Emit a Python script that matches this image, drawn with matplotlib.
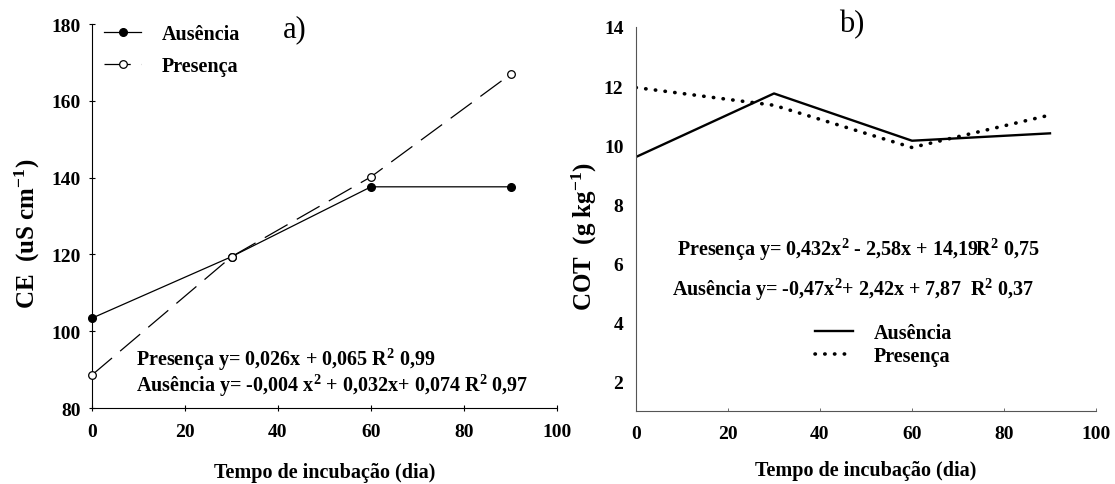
import matplotlib
matplotlib.use('Agg')
import matplotlib.pyplot as plt

plt.rcParams['font.family'] = ['Liberation Serif', 'DejaVu Serif']
plt.rcParams['font.weight'] = 'bold'
plt.rcParams['mathtext.fontset'] = 'custom'
plt.rcParams['mathtext.rm'] = 'Liberation Serif:bold'
plt.rcParams['mathtext.bf'] = 'Liberation Serif:bold'
plt.rcParams['mathtext.it'] = 'Liberation Serif:bold'

# data
dias = [0, 30, 60, 90]
ce_ausencia = [103.4, 119.4, 137.6, 137.6]
ce_presenca = [88.6, 119.4, 140.2, 166.9]
cot_ausencia = [9.6, 11.75, 10.15, 10.4]
cot_presenca = [11.95, 11.35, 9.92, 11.02]
xticks = [0, 20, 40, 60, 80, 100]
ce_yticks = [80, 100, 120, 140, 160, 180]
cot_yticks = [2, 4, 6, 8, 10, 12, 14]

fig = plt.figure(figsize=(11.15, 4.85), dpi=100)
ax1 = fig.add_axes([92 / 1115, 76 / 485, 465 / 1115, 384 / 485])
ax2 = fig.add_axes([636 / 1115, 73 / 485, 460 / 1115, 384 / 485])

fs_tick = 14
fs_lab = 14.5
fs_ylab = 18
fs_txt = 14.5

# ---- a) CE
ax1.plot(dias, ce_ausencia, color='black', lw=0.9, marker='o', ms=5.5,
         mfc='black', mec='black', label='Ausência', clip_on=False, zorder=3)
ax1.plot(dias, ce_presenca, color='black', lw=0.9, dashes=(21, 8.5), marker='o', ms=5.5,
         mfc='white', mec='black', mew=0.9, label='Presença', clip_on=False, zorder=4)
ax1.set_xlim(0, 100)
ax1.set_ylim(80, 180)
ax1.set_xticks(xticks)
ax1.set_yticks(ce_yticks)
for s in ['top', 'right']:
    ax1.spines[s].set_visible(False)
ax1.tick_params(direction='inout', length=4, width=0.8, labelsize=fs_tick)
ax1.tick_params(axis='x', pad=9)
ax1.tick_params(axis='y', pad=6)
ax1.set_xlabel('Tempo de incubação (dia)', fontsize=fs_lab, fontweight='bold', labelpad=16)
ax1.set_ylabel('CE  (uS cm$^{-1}$)', fontsize=fs_ylab, fontweight='bold')
ax1.yaxis.set_label_coords(-0.108, 0.455)
ax1.text(43.7, 178.7, 'a)', fontsize=22, fontweight='normal', ha='center', va='center')
ax1.text(9.4, 92.75, 'Presença y= 0,026x + 0,065 R$^{2}$ 0,99', fontsize=fs_txt,
         fontweight='bold', va='center')
ax1.text(9.4, 86.0, 'Ausência y= -0,004 x$^{2}$ + 0,032x+ 0,074 R$^{2}$ 0,97', fontsize=fs_txt,
         fontweight='bold', va='center')
ax1.legend(loc='upper left', bbox_to_anchor=(0.026, 1.001), frameon=False, numpoints=1,
           handlelength=1.85, handletextpad=1.0, labelspacing=0.62, borderpad=0,
           borderaxespad=0, prop={'size': fs_txt, 'weight': 'bold'})

# ---- b) COT
ax2.plot(dias, cot_ausencia, color='black', lw=1.7, label='Ausência')
ax2.plot(dias, cot_presenca, color='black', lw=2.6, linestyle=(0, (0.1, 2.6)),
         dash_capstyle='round', label='Presença')
ax2.set_xlim(0, 100)
ax2.set_ylim(1, 14)
ax2.set_xticks(xticks)
ax2.set_yticks(cot_yticks)
for s in ['top', 'right']:
    ax2.spines[s].set_visible(False)
for s in ['left', 'bottom']:
    ax2.spines[s].set_color('#555555')
ax2.tick_params(axis='x', direction='in', length=2, width=0.6, color='#555555',
                labelsize=fs_tick, pad=10)
ax2.tick_params(axis='y', length=0, labelsize=fs_tick, pad=9)
ax2.set_xlabel('Tempo de incubação (dia)', fontsize=fs_lab, fontweight='bold', labelpad=13)
ax2.set_ylabel('COT  (g kg$^{-1}$)', fontsize=fs_ylab, fontweight='bold')
ax2.yaxis.set_label_coords(-0.080, 0.456)
ax2.text(46.8, 14.1, 'b)', fontsize=22, fontweight='normal', ha='center', va='center',
         clip_on=False)
ax2.text(8.95, 6.48, 'Presença y= 0,432x$^{2}$ - 2,58x + 14,19R$^{2}$ 0,75', fontsize=fs_txt,
         fontweight='bold', va='center')
ax2.text(7.8, 5.13, 'Ausência y= -0,47x$^{2}$+ 2,42x + 7,87  R$^{2}$ 0,37', fontsize=fs_txt,
         fontweight='bold', va='center')
ax2.legend(loc='upper left', bbox_to_anchor=(0.389, 0.228), frameon=False,
           handlelength=1.9, handletextpad=1.0, labelspacing=0.15, borderpad=0,
           borderaxespad=0, prop={'size': fs_txt, 'weight': 'bold'})

fig.savefig('out.png', dpi=100)
